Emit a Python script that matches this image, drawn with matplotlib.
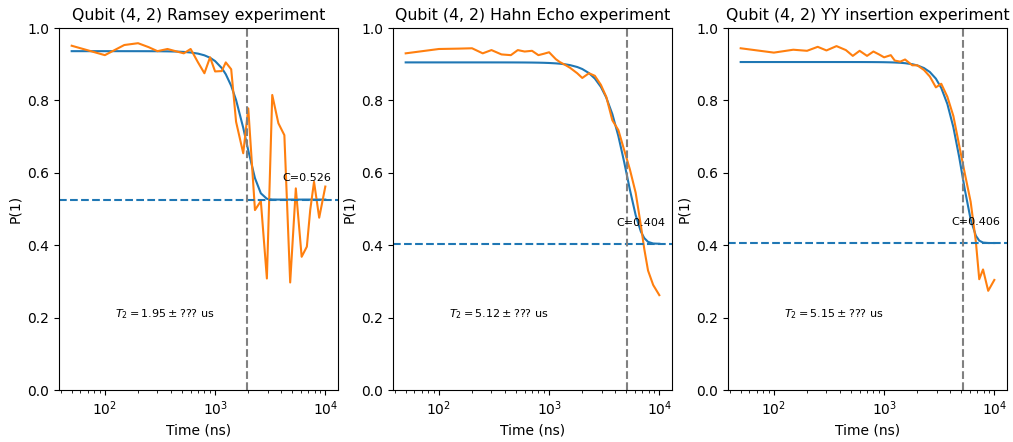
import numpy as np
import matplotlib
matplotlib.use('Agg')
import matplotlib.pyplot as plt
import matplotlib.transforms as mtransforms

# delay times (ns), shared by the three experiments
times_ns = [50, 100, 150, 200, 250, 300, 370, 450, 520, 600, 700, 800, 900, 1000,
            1150, 1250, 1400, 1550, 1800, 2000, 2300, 2600, 2950, 3300, 3750, 4250,
            4800, 5400, 6100, 6800, 7300, 7900, 8800, 10000]

# measured P(1)
ramsey_p = [0.951, 0.925, 0.953, 0.958, 0.947, 0.936, 0.942, 0.935, 0.930, 0.942,
            0.905, 0.875, 0.919, 0.880, 0.881, 0.905, 0.886, 0.741, 0.654, 0.778,
            0.497, 0.522, 0.308, 0.815, 0.737, 0.704, 0.297, 0.557, 0.368, 0.396,
            0.498, 0.575, 0.476, 0.562]
hahn_p = [0.930, 0.942, 0.943, 0.944, 0.930, 0.939, 0.927, 0.925, 0.939, 0.935,
          0.937, 0.925, 0.929, 0.933, 0.914, 0.906, 0.898, 0.890, 0.875, 0.862,
          0.875, 0.868, 0.843, 0.810, 0.745, 0.718, 0.663, 0.610, 0.545, 0.455,
          0.390, 0.330, 0.290, 0.262]
yy_p = [0.944, 0.932, 0.940, 0.937, 0.948, 0.938, 0.950, 0.939, 0.923, 0.937,
        0.923, 0.935, 0.927, 0.919, 0.925, 0.910, 0.907, 0.913, 0.897, 0.897,
        0.884, 0.866, 0.836, 0.846, 0.810, 0.757, 0.676, 0.598, 0.520, 0.410,
        0.306, 0.333, 0.274, 0.304]

titles = ['Qubit (4, 2) Ramsey experiment', 'Qubit (4, 2) Hahn Echo experiment',
          'Qubit (4, 2) YY insertion experiment']

# fit parameters: amplitude, offset C, T2 (ns), exponent
fit_amp = [0.410, 0.501, 0.500]
fit_c = [0.526, 0.404, 0.406]
fit_t2 = [1950, 5120, 5150]
fit_n = [4.0, 3.5, 4.2]

data = [ramsey_p, hahn_p, yy_p]
t = np.array(times_ns, dtype=float)

fig = plt.figure(figsize=(10.13, 4.42), dpi=100)
lefts = [59, 393, 728]
for i in range(3):
    ax = fig.add_axes([lefts[i] / 1013, 52 / 442, 279 / 1013, 362 / 442])
    fit = fit_amp[i] * np.exp(-(t / fit_t2[i]) ** fit_n[i]) + fit_c[i]
    ax.plot(t, fit, color='C0')
    ax.plot(t, data[i], color='C1')
    ax.axhline(fit_c[i], color='C0', linestyle='--')
    ax.axvline(fit_t2[i], color='gray', linestyle='--')
    ax.set_xscale('log')
    ax.set_ylim(0, 1)
    trans = mtransforms.blended_transform_factory(ax.transAxes, ax.transData)
    ax.text(0.8, fit_c[i] + 0.05, 'C=%.3f' % fit_c[i], transform=trans, fontsize=8)
    ax.text(0.2, 0.2, r'$T_2 = %.2f \pm ???$ us' % (fit_t2[i] / 1000), transform=trans,
            fontsize=8)
    ax.set_title(titles[i], fontsize=11.3)
    ax.set_xlabel('Time (ns)')
    ax.set_ylabel('P(1)')

plt.savefig('out.png')
